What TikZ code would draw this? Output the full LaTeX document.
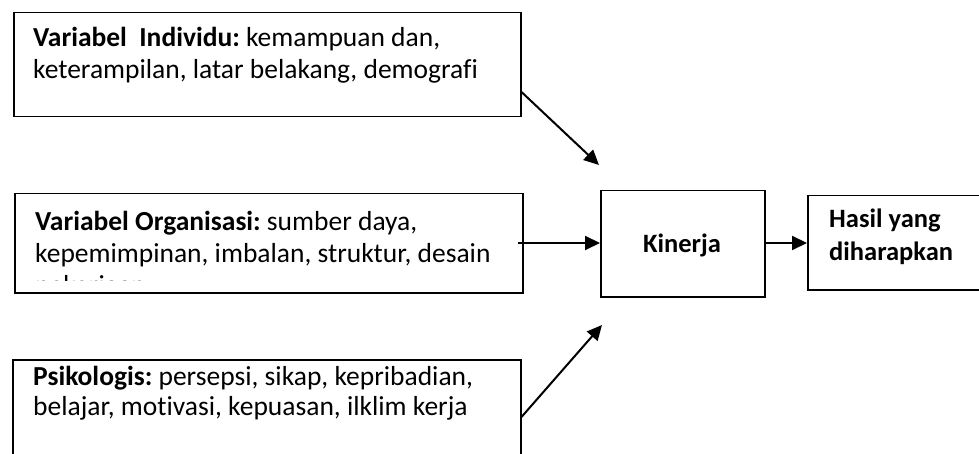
\documentclass[tikz,border=0pt]{standalone}
\usepackage{fontspec}
\setmainfont{Carlito}[Ligatures={NoCommon}]
\usetikzlibrary{arrows.meta}
\begin{document}
\frenchspacing
\begin{tikzpicture}[x=1pt,y=-1pt,
  box/.style={draw, line width=1.5pt, rectangle, inner sep=0pt, anchor=north west},
  txt/.style={anchor=base west, inner sep=0pt, align=flush left, text width=490pt,
    font=\frenchspacing\fontsize{27.5}{32}\selectfont},
  arr/.style={line width=2pt, -{Triangle[length=15pt,width=14pt]}}]
\clip (0,0) rectangle (979,454);
\fill[white] (0,0) rectangle (979,454);
% boxes
\node[box, minimum width=507pt, minimum height=104pt] (b1) at (13,12) {};
\node[box, minimum width=508pt, minimum height=99pt] (b2) at (14,193) {};
\node[box, minimum width=508pt, minimum height=120pt] (b3) at (12,359) {};
\node[box, minimum width=164pt, minimum height=106pt] (k) at (600,190) {};
\node[box, minimum width=200pt, minimum height=94pt] (h) at (807,195) {};
% texts
\node[txt] (t1) at (33,47) {\textbf{Variabel\ \ Individu:} kemampuan dan,\\keterampilan, latar belakang, demografi};
\begin{scope}
\clip (0,0) rectangle (979,280);
\node[txt] (t2) at (35,231) {\textbf{Variabel Organisasi:} sumber daya,\\kepemimpinan, imbalan, struktur, desain\\pekerjaan};
\end{scope}
\node[txt, font=\frenchspacing\fontsize{27.5}{30}\selectfont] (t3) at (33,385) {\textbf{Psikologis:} persepsi, sikap, kepribadian,\\belajar, motivasi, kepuasan, ilklim kerja};
\node[anchor=base, inner sep=0pt, font=\fontsize{26.5}{32}\bfseries] (tk) at (682,252) {Kinerja};
\node[txt, text width=150pt, font=\fontsize{26.5}{33}\selectfont\bfseries] (th) at (829,228) {Hasil yang\\diharapkan};
% connectors
\coordinate (e1) at (b1.north east |- 0,92);
\coordinate (tip1) at (599,165);
\coordinate (e3) at (b3.north east |- 0,417);
\coordinate (tip3) at (602,325);
\coordinate (e2) at (518,243);
\draw[arr] (e1) -- (tip1);
\draw[arr] (e2) -- (k.west |- e2);
\draw[arr] (e3) -- (tip3);
\draw[arr] (k.east |- e2) -- (h.west |- e2);
\end{tikzpicture}
\end{document}
